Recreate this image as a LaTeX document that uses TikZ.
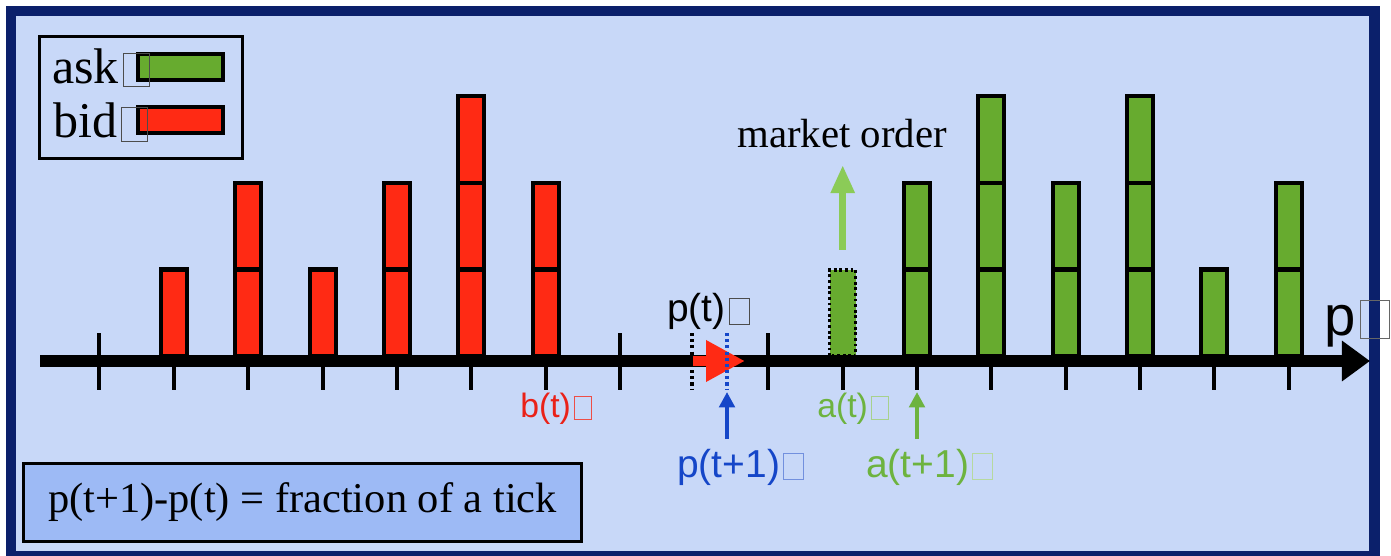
\documentclass[tikz,border=0pt]{standalone}
\usepackage{fontspec}
\setmainfont{Liberation Serif}
\setsansfont{Liberation Sans}
\usetikzlibrary{arrows.meta}
\definecolor{bgblue}{HTML}{C8D8F8}
\definecolor{navy}{HTML}{0B206B}
\definecolor{barred}{HTML}{FF2A14}
\definecolor{bargreen}{HTML}{67AB2F}
\definecolor{lightgreen}{HTML}{8BCB57}
\definecolor{txtblue}{HTML}{1546C8}
\definecolor{txtgreen}{HTML}{6DB33F}
\definecolor{txtred}{HTML}{EA2118}
\definecolor{notefill}{HTML}{9DBAF5}
\newcommand\tofu[1]{{\color{#1}\setlength\fboxrule{0.5pt}\setlength\fboxsep{0pt}\hspace{0.08em}\raisebox{-0.05em}{\fbox{\rule{0pt}{0.66em}\rule{0.5em}{0pt}}}}}
\newcommand\fs[1]{\fontsize{#1}{1.2\dimexpr#1\relax}\selectfont}
\tikzset{
  barbox/.style={draw=black, line width=2.85pt},
  redbar/.style={barbox, fill=barred},
  greenbar/.style={barbox, fill=bargreen},
  tickmark/.style={line width=2.85pt},
  lbl/.style={inner sep=0pt, anchor=base west},
  dotline/.style={line width=2.6pt, dash pattern=on 2.2pt off 2.2pt},
}
\begin{document}
\begin{tikzpicture}[x=0.025cm, y=-0.025cm]
\useasboundingbox (0,0) rectangle (1391,556);
\fill[white] (0,0) rectangle (1391,556);
% frame
\draw[line width=7.8pt, draw=navy, fill=bgblue] (11,11) rectangle (1374.5,556.5);
% legend
\draw[line width=2.2pt] (39.5,36.5) rectangle (242.5,158.5);
\draw[greenbar] (138,54) rectangle (223,80);
\draw[redbar] (138,107) rectangle (223,133);
\node[lbl, font=\fs{35.6pt}] (ask) at (52,84) {ask\tofu{black!70}};
\node[lbl, font=\fs{35.6pt}] (bid) at (53,138) {bid\tofu{black!70}};
% ticks
\foreach \x in {99,174,248.3,322.6,396.9,471.2,545.5,619.8,768.4,842.7,917,991.3,1065.6,1139.9,1214.2,1288.5}
  \draw[tickmark] (\x,333) -- (\x,390);
% bid bars
\foreach \x/\h in {174/1,248.3/2,322.6/1,396.9/2,471.2/3,545.5/2}
  \foreach \k in {1,...,\h}
    \draw[redbar] (\x-13,{356-86.5*(\k-1)}) rectangle (\x+13,{356-86.5*\k});
% ask bars
\foreach \x/\h in {917/2,991.3/3,1065.6/2,1139.9/3,1214.2/1,1288.5/2}
  \foreach \k in {1,...,\h}
    \draw[greenbar] (\x-13,{356-86.5*(\k-1)}) rectangle (\x+13,{356-86.5*\k});
% consumed order
\draw[fill=bargreen, draw=black, line width=2.4pt, dash pattern=on 2pt off 2pt] (829.7,356) rectangle (855.7,270);
% axis
\coordinate (axL) at (40,361);
\coordinate (axR) at (1370,361);
\draw[line width=8.5pt, -{Triangle[length=20pt,width=27.7pt]}] (axL) -- (axR);
% p(t) and move
\draw[dotline] (692,333) -- (692,390);
\coordinate (mvA) at (693,361);
\coordinate (mvB) at (745,361);
\draw[line width=7.5pt, barred, -{Triangle[length=27.7pt,width=27.7pt]}] (mvA) -- (mvB);
\draw[dotline, txtblue] (727,333) -- (727,390);
% market order arrow
\coordinate (moA) at (842.7,250);
\coordinate (moB) at (842.7,165);
\draw[line width=5pt, lightgreen, -{Triangle[length=20pt,width=16pt]}] (moA) -- (moB);
\node[inner sep=0pt, anchor=base, font=\fs{29pt}] (mo) at (842,148) {market order};
% small arrows
\coordinate (pbA) at (727,439);
\coordinate (pbB) at (727,392);
\draw[line width=2.9pt, txtblue, -{Triangle[length=11pt,width=11pt]}] (pbA) -- (pbB);
\coordinate (abA) at (917,439);
\coordinate (abB) at (917,392);
\draw[line width=2.9pt, txtgreen, -{Triangle[length=11pt,width=11pt]}] (abA) -- (abB);
% labels
\node[lbl, font=\sffamily\fs{27.7pt}] (pt) at (667,322) {p(t)\tofu{black!70}};
\node[lbl, font=\sffamily\fs{24pt}, text=txtred] (bt) at (520,417) {b(t)\tofu{txtred!80}};
\node[lbl, font=\sffamily\fs{24pt}, text=txtgreen] (at) at (817,417) {a(t)\tofu{txtgreen!60!white}};
\node[lbl, font=\sffamily\fs{27.7pt}, text=txtblue] (pt1) at (677,477) {p(t+1)\tofu{txtblue!60!white}};
\node[lbl, font=\sffamily\fs{27.7pt}, text=txtgreen] (at1) at (866,477) {a(t+1)\tofu{txtgreen!50!white}};
\node[lbl, font=\sffamily\fs{40pt}] (p) at (1324,335) {p\tofu{black!60}};
% note box
\node[draw=black, line width=2.2pt, fill=notefill, minimum width=397pt, minimum height=56pt, inner sep=0pt, font=\fs{30.2pt}] (note) at (302.5,502.5) {p(t+1)-p(t) = fraction of a tick};
\end{tikzpicture}
\end{document}
